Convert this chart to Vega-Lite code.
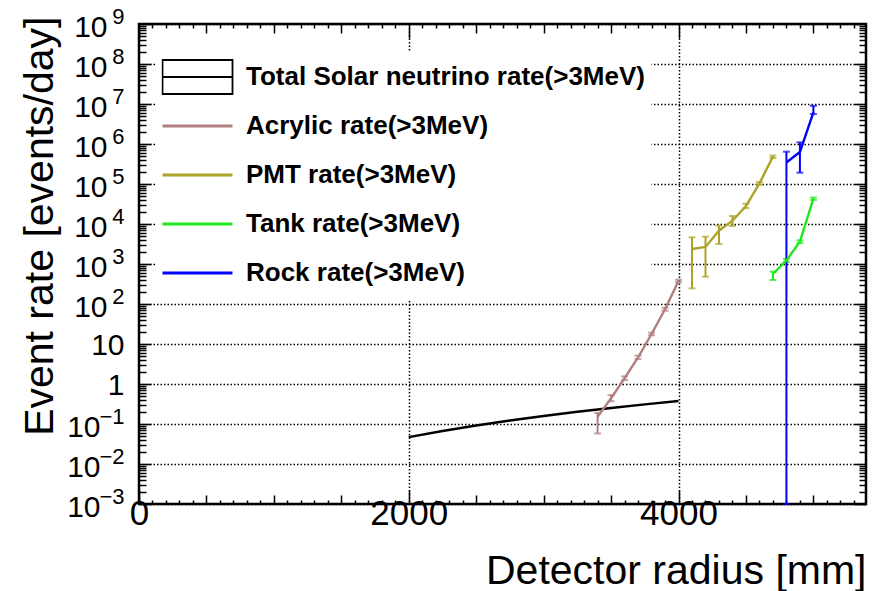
{
  "$schema": "https://vega.github.io/schema/vega-lite/v6.json",
  "width": 727,
  "height": 480,
  "autosize": {"type": "none"},
  "padding": {"left": 139, "top": 24, "right": 7, "bottom": 87},
  "background": "white",
  "config": {
    "view": {"stroke": "black", "strokeWidth": 2.5},
    "font": "Liberation Sans",
    "axis": {
      "labelFont": "Liberation Sans",
      "titleFont": "Liberation Sans",
      "labelColor": "black",
      "titleColor": "black",
      "tickColor": "black",
      "tickWidth": 1.5,
      "labelOverlap": false,
      "labelFlush": false,
      "labelBound": false,
      "domain": false
    }
  },
  "datasets": {
    "series": [
      {"s": "Total Solar neutrino rate(>3MeV)", "r": 2000, "v": 0.047},
      {"s": "Total Solar neutrino rate(>3MeV)", "r": 2250, "v": 0.067},
      {"s": "Total Solar neutrino rate(>3MeV)", "r": 2500, "v": 0.092},
      {"s": "Total Solar neutrino rate(>3MeV)", "r": 2750, "v": 0.122},
      {"s": "Total Solar neutrino rate(>3MeV)", "r": 3000, "v": 0.159},
      {"s": "Total Solar neutrino rate(>3MeV)", "r": 3250, "v": 0.202},
      {"s": "Total Solar neutrino rate(>3MeV)", "r": 3500, "v": 0.252},
      {"s": "Total Solar neutrino rate(>3MeV)", "r": 3750, "v": 0.31},
      {"s": "Total Solar neutrino rate(>3MeV)", "r": 4000, "v": 0.376},
      {"s": "Acrylic rate(>3MeV)", "r": 3400, "v": 0.152, "lo": 0.058, "hi": 0.19},
      {"s": "Acrylic rate(>3MeV)", "r": 3500, "v": 0.44, "lo": 0.37, "hi": 0.53},
      {"s": "Acrylic rate(>3MeV)", "r": 3600, "v": 1.39, "lo": 1.25, "hi": 1.55},
      {"s": "Acrylic rate(>3MeV)", "r": 3700, "v": 4.6, "lo": 4.2, "hi": 5.1},
      {"s": "Acrylic rate(>3MeV)", "r": 3800, "v": 17.8, "lo": 16.5, "hi": 19.2},
      {"s": "Acrylic rate(>3MeV)", "r": 3900, "v": 73.6, "lo": 68, "hi": 80},
      {"s": "Acrylic rate(>3MeV)", "r": 4000, "v": 376, "lo": 350, "hi": 405},
      {"s": "PMT rate(>3MeV)", "r": 4100, "v": 2371, "lo": 246, "hi": 4642},
      {"s": "PMT rate(>3MeV)", "r": 4200, "v": 2661, "lo": 482, "hi": 4820},
      {"s": "PMT rate(>3MeV)", "r": 4300, "v": 6808, "lo": 3162, "hi": 9080},
      {"s": "PMT rate(>3MeV)", "r": 4400, "v": 12100, "lo": 8900, "hi": 15850},
      {"s": "PMT rate(>3MeV)", "r": 4500, "v": 28180, "lo": 25000, "hi": 32000},
      {"s": "PMT rate(>3MeV)", "r": 4600, "v": 104000, "lo": 97000, "hi": 112000},
      {"s": "PMT rate(>3MeV)", "r": 4700, "v": 482000, "lo": 450000, "hi": 515000},
      {"s": "Tank rate(>3MeV)", "r": 4700, "v": 562, "lo": 398, "hi": 643},
      {"s": "Tank rate(>3MeV)", "r": 4800, "v": 1230, "lo": 1130, "hi": 1340},
      {"s": "Tank rate(>3MeV)", "r": 4900, "v": 3610, "lo": 3350, "hi": 3900},
      {"s": "Tank rate(>3MeV)", "r": 5000, "v": 42950, "lo": 40000, "hi": 46000},
      {"s": "Rock rate(>3MeV)", "r": 4800, "v": 345000, "lo": 0.001, "hi": 643000},
      {"s": "Rock rate(>3MeV)", "r": 4900, "v": 630000, "lo": 192000, "hi": 1100000},
      {"s": "Rock rate(>3MeV)", "r": 5000, "v": 6200000, "lo": 5600000, "hi": 9000000}
    ],
    "dummy": [{"r": 1000, "v": 1}]
  },
  "layer": [
    {
      "data": {"name": "series"},
      "layer": [
        {
          "transform": [{"filter": "isValid(datum.lo)"}],
          "mark": {"type": "errorbar", "ticks": {"size": 7, "thickness": 2}, "thickness": 2},
          "encoding": {
            "x": {
              "field": "r", "type": "quantitative",
              "scale": {"domain": [0, 5390], "nice": false, "zero": false},
              "axis": {
                "orient": "bottom",
                "title": "Detector radius [mm]",
                "titleFontSize": 41, "titleFontWeight": "normal",
                "titleAnchor": "end", "titleAlign": "right", "titleBaseline": "alphabetic",
                "titleX": 727, "titleY": 79,
                "tickCount": 54,
                "labelExpr": "datum.value % 2000 == 0 ? format(datum.value, 'd') : ''",
                "labelFontSize": 35, "labelPadding": 6, "labelBaseline": "top",
                "ticks": true,
                "tickSize": {"condition": [{"test": "datum.value % 2000 == 0", "value": -14}, {"test": "datum.value % 500 == 0", "value": -9}], "value": -4},
                "grid": true, "gridColor": "black", "gridDash": [1.5, 2], "gridWidth": 1.5,
                "gridOpacity": {"condition": {"test": "datum.value == 2000 || datum.value == 4000", "value": 1}, "value": 0}
              }
            },
            "y": {
              "field": "lo", "type": "quantitative",
              "scale": {"type": "log", "domain": [0.001, 1000000000], "nice": false},
              "axis": {
                "orient": "left",
                "title": "Event rate [events/day]",
                "titleFontSize": 41, "titleFontWeight": "normal",
                "titleAngle": 270, "titleAlign": "right", "titleAnchor": "end", "titleBaseline": "alphabetic",
                "titleX": -87, "titleY": -8,
                "tickCount": 200,
                "labels": false,
                "ticks": true,
                "tickSize": {"condition": {"test": "abs(log(datum.value)/LN10 - round(log(datum.value)/LN10)) < 0.001", "value": -12}, "value": -7},
                "grid": true, "gridColor": "black", "gridDash": [1.5, 2], "gridWidth": 1.5,
                "gridOpacity": {"condition": {"test": "abs(log(datum.value)/LN10 - round(log(datum.value)/LN10)) < 0.001", "value": 1}, "value": 0}
              }
            },
            "y2": {"field": "hi"},
            "color": {
              "field": "s", "type": "nominal",
              "scale": {
                "domain": ["Total Solar neutrino rate(>3MeV)", "Acrylic rate(>3MeV)", "PMT rate(>3MeV)", "Tank rate(>3MeV)", "Rock rate(>3MeV)"],
                "range": ["#000000", "#b07f7f", "#aca42a", "#1ee81e", "#0000ff"]
              },
              "legend": {
                "title": null,
                "orient": "none", "legendX": 16.5, "legendY": 27,
                "padding": 6,
                "fillColor": "white",
                "symbolType": "stroke",
                "symbolSize": 4900,
                "symbolStrokeWidth": 3,
                "symbolOffset": 23,
                "labelFont": "Liberation Sans", "labelFontWeight": "bold", "labelFontSize": 26, "labelColor": "black",
                "labelOffset": 35.5, "labelLimit": 0,
                "clipHeight": 40,
                "rowPadding": 9,
                "encode": {
                  "symbols": {
                    "update": {
                      "shape": {"signal": "datum.value == 'Total Solar neutrino rate(>3MeV)' ? 'M-1,-0.486H1V0.486H-1ZM-1,0H1' : 'M-1,0H1M0,-0.486M0,0.486'"},
                      "fill": {"value": "transparent"},
                      "fillOpacity": {"value": 0},
                      "strokeWidth": {"signal": "datum.value == 'Total Solar neutrino rate(>3MeV)' ? 1.8 : 3"}
                    }
                  }
                }
              }
            }
          }
        },
        {
          "mark": {"type": "line", "strokeWidth": 2.4},
          "encoding": {
            "x": {"field": "r", "type": "quantitative"},
            "y": {"field": "v", "type": "quantitative"},
            "color": {"field": "s", "type": "nominal"}
          }
        }
      ]
    },
    {
      "data": {"name": "dummy"},
      "mark": {"type": "point", "opacity": 0},
      "encoding": {
        "x": {
          "field": "r", "type": "quantitative",
          "scale": {"domain": [0, 5390], "nice": false, "zero": false},
          "axis": {
            "orient": "top", "title": null, "labels": false, "grid": false,
            "tickCount": 54, "ticks": true,
            "tickSize": {"condition": [{"test": "datum.value % 2000 == 0", "value": -14}, {"test": "datum.value % 500 == 0", "value": -9}], "value": -4}
          }
        },
        "y": {
          "field": "v", "type": "quantitative",
          "scale": {"type": "log", "domain": [0.001, 1000000000], "nice": false},
          "axis": {
            "orient": "left", "title": null, "ticks": false, "grid": false,
            "tickCount": 200,
            "labelExpr": "abs(log(datum.value)/LN10 - round(log(datum.value)/LN10)) < 0.001 && (round(log(datum.value)/LN10) >= 2 || round(log(datum.value)/LN10) < 0) ? (round(log(datum.value)/LN10) < 0 ? '\u2212' + format(-round(log(datum.value)/LN10), 'd') : format(round(log(datum.value)/LN10), 'd')) : ''",
            "labelFontSize": 22, "labelAlign": "right", "labelBaseline": "alphabetic",
            "labelPadding": 15, "labelOffset": -1
          }
        }
      }
    },
    {
      "data": {"name": "dummy"},
      "mark": {"type": "point", "opacity": 0},
      "encoding": {
        "x": {
          "field": "r", "type": "quantitative",
          "scale": {"domain": [0, 5390], "nice": false, "zero": false},
          "axis": null
        },
        "y": {
          "field": "v", "type": "quantitative",
          "scale": {"type": "log", "domain": [0.001, 1000000000], "nice": false},
          "axis": {
            "orient": "right", "title": null, "labels": false, "grid": false,
            "tickCount": 200, "ticks": true,
            "tickSize": {"condition": {"test": "abs(log(datum.value)/LN10 - round(log(datum.value)/LN10)) < 0.001", "value": -12}, "value": -7}
          }
        }
      }
    },
    {
      "data": {"name": "dummy"},
      "mark": {"type": "point", "opacity": 0},
      "encoding": {
        "x": {
          "field": "r", "type": "quantitative",
          "scale": {"domain": [0, 5390], "nice": false, "zero": false},
          "axis": null
        },
        "y": {
          "field": "v", "type": "quantitative",
          "scale": {"type": "log", "domain": [0.001, 1000000000], "nice": false},
          "axis": {
            "orient": "left", "title": null, "ticks": false, "grid": false,
            "tickCount": 200,
            "labelExpr": "abs(log(datum.value)/LN10 - round(log(datum.value)/LN10)) < 0.001 && round(log(datum.value)/LN10) >= 2 ? '10' : ''",
            "labelFontSize": 30, "labelAlign": "right", "labelBaseline": "middle",
            "labelPadding": 32, "labelOffset": 3
          }
        }
      }
    },
    {
      "data": {"name": "dummy"},
      "mark": {"type": "point", "opacity": 0},
      "encoding": {
        "x": {
          "field": "r", "type": "quantitative",
          "scale": {"domain": [0, 5390], "nice": false, "zero": false},
          "axis": null
        },
        "y": {
          "field": "v", "type": "quantitative",
          "scale": {"type": "log", "domain": [0.001, 1000000000], "nice": false},
          "axis": {
            "orient": "left", "title": null, "ticks": false, "grid": false,
            "tickCount": 200,
            "labelExpr": "abs(log(datum.value)/LN10 - round(log(datum.value)/LN10)) < 0.001 && round(log(datum.value)/LN10) < 0 ? '10' : ''",
            "labelFontSize": 30, "labelAlign": "right", "labelBaseline": "middle",
            "labelPadding": 39, "labelOffset": 3
          }
        }
      }
    },
    {
      "data": {"name": "dummy"},
      "mark": {"type": "point", "opacity": 0},
      "encoding": {
        "x": {
          "field": "r", "type": "quantitative",
          "scale": {"domain": [0, 5390], "nice": false, "zero": false},
          "axis": null
        },
        "y": {
          "field": "v", "type": "quantitative",
          "scale": {"type": "log", "domain": [0.001, 1000000000], "nice": false},
          "axis": {
            "orient": "left", "title": null, "ticks": false, "grid": false,
            "tickCount": 200,
            "labelExpr": "abs(log(datum.value)/LN10 - round(log(datum.value)/LN10)) < 0.001 && round(log(datum.value)/LN10) == 0 ? '1' : (abs(log(datum.value)/LN10 - round(log(datum.value)/LN10)) < 0.001 && round(log(datum.value)/LN10) == 1 ? '10' : '')",
            "labelFontSize": 30, "labelAlign": "right", "labelBaseline": "middle",
            "labelPadding": 15, "labelOffset": 1.5
          }
        }
      }
    }
  ],
  "resolve": {
    "scale": {"x": "independent", "y": "independent"},
    "axis": {"x": "independent", "y": "independent"}
  }
}
